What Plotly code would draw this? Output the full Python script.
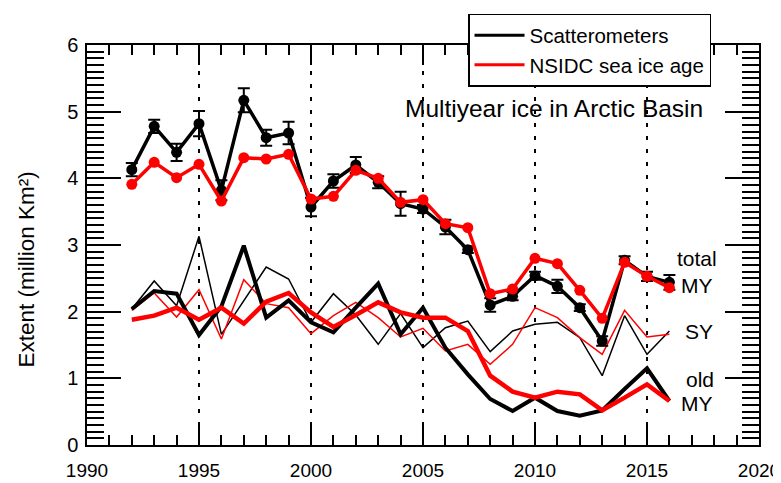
import plotly.graph_objects as go

years = list(range(1992, 2017))

scat_total = [4.13, 4.78, 4.39, 4.82, 3.82, 5.17, 4.61, 4.68, 3.57, 3.96, 4.20, 3.94, 3.62,
              3.54, 3.27, 2.93, 2.10, 2.23, 2.54, 2.38, 2.06, 1.56, 2.77, 2.53, 2.44]
scat_err = [0.10, 0.10, 0.13, 0.19, 0.15, 0.18, 0.12, 0.17, 0.14, 0.10, 0.12, 0.09, 0.18,
            0.06, 0.11, 0.05, 0.10, 0.06, 0.06, 0.10, 0.05, 0.07, 0.06, 0.07, 0.11]
nsidc_total = [3.91, 4.24, 4.01, 4.21, 3.66, 4.31, 4.29, 4.36, 3.69, 3.73, 4.12, 4.00, 3.64,
               3.68, 3.32, 3.26, 2.27, 2.34, 2.80, 2.72, 2.32, 1.90, 2.74, 2.53, 2.36]
scat_sy = [2.04, 2.46, 2.09, 3.13, 1.66, 2.17, 2.67, 2.49, 1.84, 2.27, 1.95, 1.51, 1.97,
           1.46, 1.76, 1.86, 1.40, 1.71, 1.81, 1.84, 1.61, 1.04, 1.94, 1.36, 1.71]
nsidc_sy = [2.02, 2.28, 1.92, 2.33, 1.59, 2.48, 2.12, 2.06, 1.67, 1.94, 2.14, 1.91, 1.62,
            1.75, 1.41, 1.51, 1.21, 1.51, 2.06, 1.91, 1.61, 1.36, 2.02, 1.62, 1.66]
scat_old = [2.04, 2.31, 2.27, 1.65, 2.08, 2.99, 1.91, 2.17, 1.84, 1.69, 2.06, 2.42, 1.66,
            2.06, 1.46, 1.06, 0.69, 0.51, 0.71, 0.51, 0.44, 0.52, 0.84, 1.15, 0.66]
nsidc_old = [1.88, 1.94, 2.06, 1.88, 2.06, 1.82, 2.15, 2.28, 1.99, 1.77, 1.95, 2.14, 1.99,
             1.91, 1.91, 1.71, 1.04, 0.80, 0.71, 0.80, 0.76, 0.52, 0.71, 0.91, 0.66]

x_ticks = [1990, 1995, 2000, 2005, 2010, 2015, 2020]
y_ticks = [0, 1, 2, 3, 4, 5, 6]
legend_names = ["Scatterometers", "NSIDC sea ice age"]
series_labels = ["total", "MY", "SY", "old", "MY"]

BLACK = "#000000"
RED = "#ff0000"
FONT = "Liberation Sans, Arial, Helvetica, sans-serif"

fig = go.Figure()

# thin lines (SY)
fig.add_trace(go.Scatter(x=years, y=scat_sy, mode="lines",
                         line=dict(color=BLACK, width=1.5), showlegend=False))
fig.add_trace(go.Scatter(x=years, y=nsidc_sy, mode="lines",
                         line=dict(color=RED, width=1.5), showlegend=False))
# thick lines (old MY)
fig.add_trace(go.Scatter(x=years, y=scat_old, mode="lines",
                         line=dict(color=BLACK, width=4), showlegend=False))
fig.add_trace(go.Scatter(x=years, y=nsidc_old, mode="lines",
                         line=dict(color=RED, width=4.5), showlegend=False))
# total MY
fig.add_trace(go.Scatter(x=years, y=scat_total, mode="lines+markers",
                         line=dict(color=BLACK, width=3.5),
                         marker=dict(color=BLACK, size=11),
                         error_y=dict(type="data", array=scat_err, visible=True,
                                      color=BLACK, thickness=2, width=6),
                         showlegend=False))
fig.add_trace(go.Scatter(x=years, y=nsidc_total, mode="lines+markers",
                         line=dict(color=RED, width=3.5),
                         marker=dict(color=RED, size=11),
                         showlegend=False))

# legend entries
fig.add_trace(go.Scatter(x=[None], y=[None], mode="lines", name=legend_names[0],
                         line=dict(color=BLACK, width=3)))
fig.add_trace(go.Scatter(x=[None], y=[None], mode="lines", name=legend_names[1],
                         line=dict(color=RED, width=3)))

annotations = [
    dict(text="Multiyear ice in Arctic Basin", x=0.695, y=0.842, xref="paper", yref="paper",
         xanchor="center", yanchor="middle",
         showarrow=False, font=dict(size=24.5, color=BLACK, family=FONT)),
    dict(text="Extent (million Km²)", x=-0.0893, y=0.4386, xref="paper", yref="paper",
         xanchor="center", yanchor="middle",
         showarrow=False, textangle=-90, font=dict(size=22.5, color=BLACK, family=FONT)),
]
label_pos = [(0.908, 0.466), (0.908, 0.398), (0.911, 0.283), (0.912, 0.163), (0.908, 0.105)]
for t, (px, py) in zip(series_labels, label_pos):
    annotations.append(dict(text=t, x=px, y=py, xref="paper", yref="paper", showarrow=False,
                            xanchor="center", yanchor="middle",
                            font=dict(size=21, color=BLACK, family=FONT)))

# the page body adds an 8px offset, so the figure is drawn 8px smaller
fig.update_layout(
    width=773, height=475,
    margin=dict(l=79, r=22, t=37, b=38, autoexpand=False),
    paper_bgcolor="white", plot_bgcolor="white",
    font=dict(family=FONT, color=BLACK),
    showlegend=True,
    legend=dict(x=0.567, y=1.078, xanchor="left", yanchor="top",
                bgcolor="white", bordercolor=BLACK, borderwidth=1.5,
                font=dict(size=20.5, color=BLACK, family=FONT),
                tracegroupgap=0, itemwidth=50),
    annotations=annotations,
    xaxis=dict(range=[1990, 2020], tickvals=x_ticks, ticktext=[str(v) for v in x_ticks],
               ticks="inside", ticklen=20, tickwidth=1.5, tickcolor=BLACK,
               showline=True, linecolor=BLACK, linewidth=1.5, mirror="allticks",
               minor=dict(dtick=1, ticks="inside", ticklen=10, tickwidth=1.5, tickcolor=BLACK),
               showgrid=True, gridcolor=BLACK, gridwidth=2, griddash="4px,9px",
               zeroline=False, tickfont=dict(size=19, color=BLACK, family=FONT),
               ticklabelstandoff=7, ticklabeloverflow="allow", automargin=False),
    yaxis=dict(range=[0, 6], tickvals=y_ticks, ticktext=[str(v) for v in y_ticks],
               ticks="inside", ticklen=34, tickwidth=1.5, tickcolor=BLACK,
               showline=True, linecolor=BLACK, linewidth=1.5, mirror="allticks",
               minor=dict(dtick=0.1, ticks="inside", ticklen=17, tickwidth=1.5, tickcolor=BLACK),
               showgrid=False, zeroline=False,
               tickfont=dict(size=20, color=BLACK, family=FONT), ticklabelstandoff=3,
               automargin=False),
)

fig.write_html("out.html")
